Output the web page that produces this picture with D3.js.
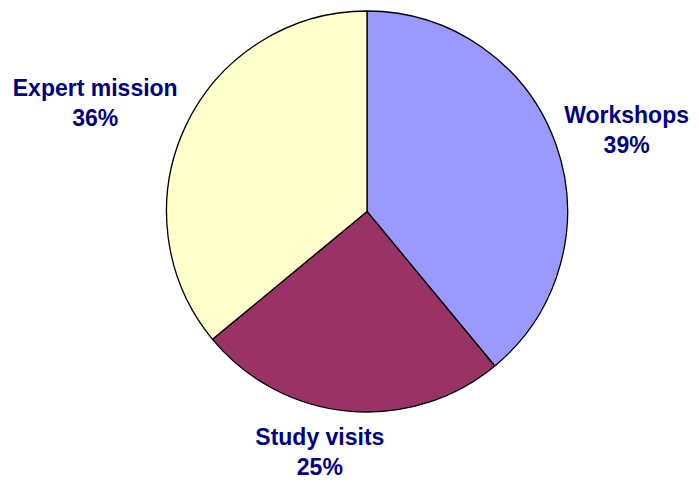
<!DOCTYPE html>
<html>
<head>
<meta charset="utf-8">
<script src="https://cdn.jsdelivr.net/npm/d3@7"></script>
<style>
  html, body { margin: 0; padding: 0; background: #ffffff; }
  svg { display: block; }
</style>
</head>
<body>
<div id="chart"></div>
<script>
const categories = ['Workshops', 'Study visits', 'Expert mission']
const values = [39, 25, 36]
const colors = ['#9999ff', '#993366', '#ffffcc']

const width = 699
const height = 487
const cx = 367
const cy = 211.5
const radius = 200.5

// small manual nudges, like dragged labels in the original
const labelNudge = { 'Study visits': [-21, 0], 'Expert mission': [-4, -6] }

const svg = d3.select('#chart')
  .append('svg')
  .attr('width', width)
  .attr('height', height)

const g = svg.append('g')
  .attr('transform', `translate(${cx},${cy})`)

const data = categories.map((c, i) => ({ name: c, value: values[i], color: colors[i] }))

const pie = d3.pie()
  .value(d => d.value)
  .sort(null)

const arc = d3.arc()
  .innerRadius(0)
  .outerRadius(radius)

const arcs = pie(data)

g.selectAll('path.slice').data(arcs).enter()
  .append('path')
  .classed('slice', true)
  .attr('d', arc)
  .style('fill', d => d.data.color)
  .style('stroke', '#000000')
  .style('stroke-width', 1.3)
  .style('stroke-linejoin', 'round')

// labels
const labelR = radius + 13
const lineGap = 30
const fontSize = 23

const labelg = g.selectAll('g.label').data(arcs).enter()
  .append('g')
  .classed('label', true)

const text = labelg.append('text')
  .attr('text-anchor', 'middle')
  .style('font-family', '"Liberation Sans", Arial, sans-serif')
  .style('font-weight', 'bold')
  .style('font-size', fontSize + 'px')
  .style('fill', '#000080')

text.append('tspan')
  .attr('x', 0)
  .attr('y', 0)
  .text(d => d.data.name)

text.append('tspan')
  .attr('x', 0)
  .attr('y', lineGap)
  .text(d => Math.round(d.value / d3.sum(values) * 100) + '%')

labelg.attr('transform', function (d) {
  const a = (d.startAngle + d.endAngle) / 2
  const box = this.getBBox()
  const s = Math.sin(a)
  const c = -Math.cos(a)
  const nudge = labelNudge[d.data.name] || [0, 0]
  const x = (labelR + box.width / 2) * s + nudge[0]
  const y = labelR * c + c * box.height / 2 - (box.y + box.height / 2) + nudge[1]
  return `translate(${x},${y})`
})
</script>
</body>
</html>
